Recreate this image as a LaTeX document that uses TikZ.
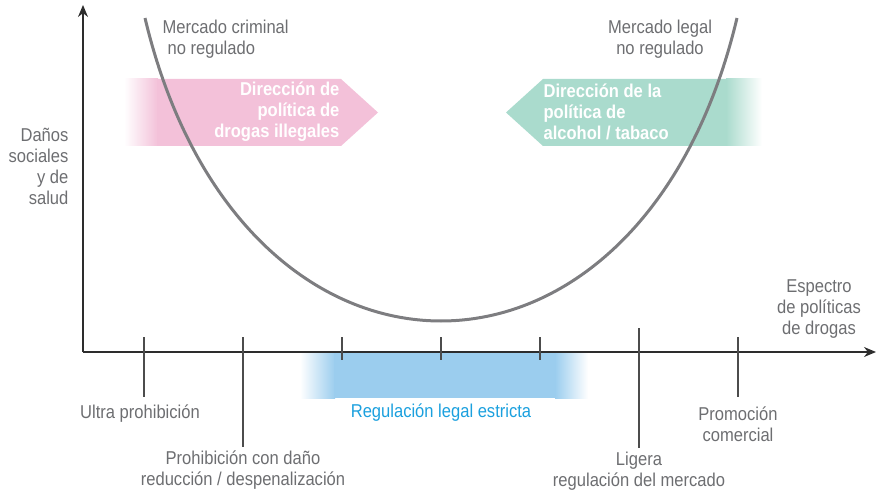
\documentclass[tikz,border=0pt]{standalone}
\usepackage{fontspec}
\setmainfont{Liberation Sans}[FakeStretch=0.89]
\usepackage{xcolor}
\usepackage{tikz}
\usetikzlibrary{arrows.meta}
\usetikzlibrary{calc}
\usetikzlibrary{positioning}

\definecolor{txtgray}{RGB}{109,110,113}
\definecolor{axisgray}{RGB}{45,45,45}
\definecolor{curvegray}{RGB}{125,125,128}
\definecolor{pinkarr}{RGB}{243,193,217}
\definecolor{greenarr}{RGB}{170,219,205}
\definecolor{blueband}{RGB}{155,205,238}
\definecolor{bluetxt}{RGB}{27,160,222}

\begin{document}
\begin{tikzpicture}[x=0.5pt,y=-0.5pt,semithick]
	\tikzstyle{lbl}=[text=txtgray, inner sep=0pt, font={\fontsize{9.3}{10.5}\selectfont}]
	\tikzstyle{wlbl}=[text=white, inner sep=0pt, font={\fontsize{9.3}{10.5}\selectfont\bfseries}]
	\tikzstyle{axis}=[draw=axisgray, line width=0.6pt, -{Stealth[length=6pt,width=5pt]}]
	\tikzstyle{tick}=[draw=axisgray!85, line width=0.6pt]
	\useasboundingbox (0,0) rectangle (879,492);

	% coloured bands
	\shade[left color=white, right color=pinkarr] (124,79) rectangle (158,146);
	\fill[pinkarr] (157,79) -- (341,79) -- (378,112.5) -- (341,146) -- (157,146) -- cycle;
	\fill[greenarr] (506,112.5) -- (543,79) -- (727,79) -- (727,146) -- (543,146) -- cycle;
	\shade[left color=greenarr, right color=white] (726,79) rectangle (762,146);
	\shade[left color=white, right color=blueband] (300,352) rectangle (335,398);
	\fill[blueband] (334,352) rectangle (556,398);
	\shade[left color=blueband, right color=white] (555,352) rectangle (588,398);

	% axes
	\coordinate (O) at (83,352);
	\coordinate (ytop) at (83,5);
	\coordinate (xend) at (876,352);
	\draw[axis] (O) -- (ytop);
	\draw[axis] (O) -- (xend);

	\foreach \i/\x/\a/\b in {1/144/337/397, 2/243/337/447, 3/342/337/360, 4/441/337/360, 5/540/337/360, 6/639/328/448, 7/738/337/397}{
		\coordinate (ta\i) at (\x,\a);
		\coordinate (tb\i) at (\x,\b);
		\draw[tick] (ta\i) -- (tb\i);
		}

	% curve
	\coordinate (cl) at (145,18);
	\coordinate (cr) at (737,18);
	\draw[curvegray, line width=1.5pt] (cl) .. controls (241,422) and (641,422) .. (cr);

	% labels
	\node[lbl, anchor=west, align=left] (crim) at (162,39) {Mercado criminal\\\hspace*{2.5pt}no regulado};
	\node[lbl, align=center] (legal) at (660,39) {Mercado legal\\no regulado};
	\node[lbl, anchor=east, align=right] (danos) at (69,166) {Daños\\sociales\\y de\\salud};
	\node[lbl, align=center] (espec) at (819,309) {Espectro\\de políticas\\de drogas};
	\node[wlbl, anchor=east, align=right] (ilegal) at (340,112) {Dirección de\\política de\\drogas illegales};
	\node[wlbl, anchor=west, align=left] (alcohol) at (543,112) {Dirección de la\\política de\\alcohol / tabaco};
	\node[lbl] (ultra) at (140,414) {Ultra prohibición};
	\node[lbl, align=center] (prohib) at (243,470) {Prohibición con daño\\reducción / despenalización};
	\node[lbl, text=bluetxt] (estricta) at (441,413) {Regulación legal estricta};
	\node[lbl, align=center] (ligera) at (639,471) {Ligera\\regulación del mercado};
	\node[lbl, align=center] (promo) at (738,424) {Promoción\\comercial};
\end{tikzpicture}
\end{document}
